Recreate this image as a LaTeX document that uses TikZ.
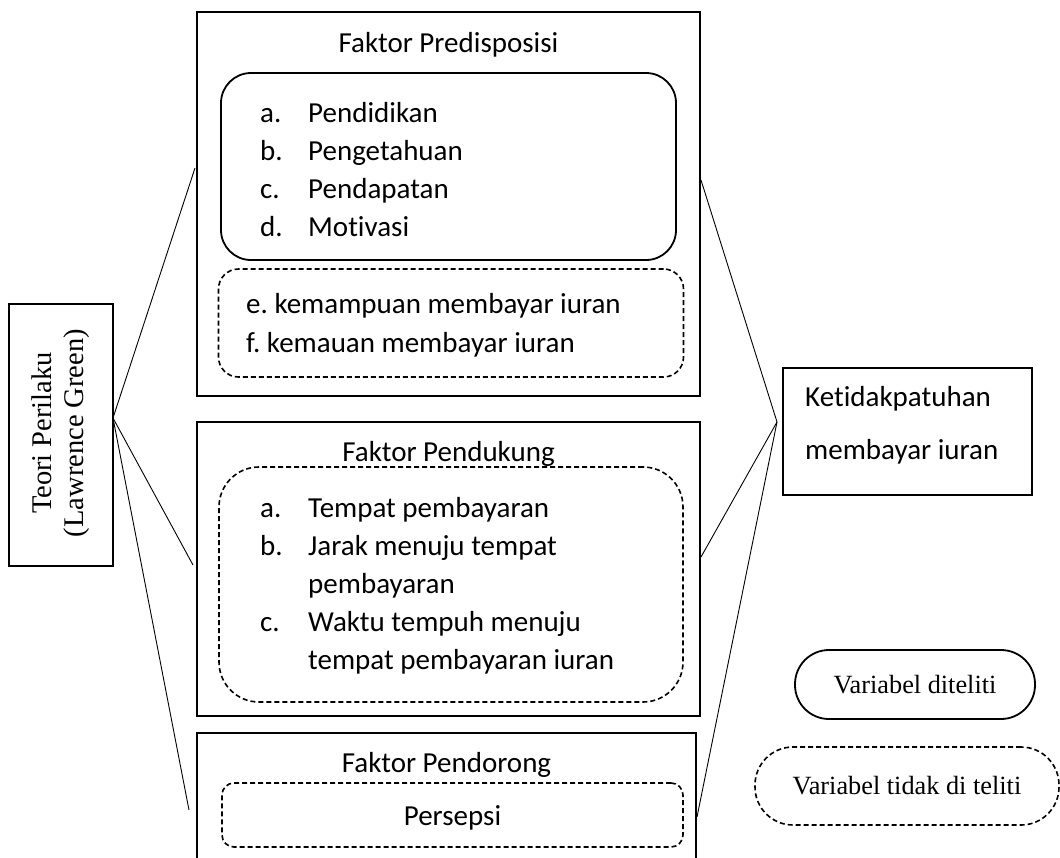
\documentclass[tikz,border=0pt]{standalone}
\usepackage{fontspec}
\setmainfont{Carlito}[Ligatures=NoCommon]
\newfontfamily\tnr{Liberation Serif}
\frenchspacing
\begin{document}
\begin{tikzpicture}[x=1pt,y=-1pt,
  frame/.style={draw, line width=2pt, inner sep=0pt},
  solidround/.style={draw, line width=1.8pt, inner sep=0pt},
  dashround/.style={draw, line width=1.6pt, dash pattern=on 5pt off 3pt, inner sep=0pt},
  conn/.style={line width=0.9pt},
  txt/.style={inner sep=0pt, anchor=base west, font=\fontsize{29}{35}\selectfont},
  ctxt/.style={inner sep=0pt, anchor=base, font=\fontsize{29}{35}\selectfont},
  serif/.style={font=\tnr\fontsize{26.3}{32}\selectfont}
]
\useasboundingbox (0,0) rectangle (1060,857);
\clip (0,0) rectangle (1060,857);

% left theory box
\node[frame, minimum width=104pt, minimum height=262pt] (teori) at (61,435) {};
\node[font=\tnr\fontsize{28.5}{32}\selectfont, rotate=90, align=center, inner sep=0pt] (teoritxt) at (61,433) {Teori Perilaku\\(Lawrence Green)};

% box 1
\node[frame, minimum width=503pt, minimum height=384pt] (b1) at (448.5,204) {};
\node[ctxt] (t1) at (448.5,52) {Faktor Predisposisi};
\node[solidround, rounded corners=30pt, minimum width=455pt, minimum height=187pt] (s1) at (448.5,166.5) {};
\node[txt] (a1l) at (260,122) {a.};  \node[txt] (a1) at (308,122) {Pendidikan};
\node[txt] (b1l) at (260,160) {b.};  \node[txt] (b1t) at (308,160) {Pengetahuan};
\node[txt] (c1l) at (260,198) {c.};  \node[txt] (c1) at (308,198) {Pendapatan};
\node[txt] (d1l) at (260,236) {d.};  \node[txt] (d1) at (308,236) {Motivasi};
\node[dashround, rounded corners=20pt, minimum width=465pt, minimum height=108pt] (dsh1) at (451,323) {};
\node[txt] (e1) at (246,313) {e. kemampuan membayar iuran};
\node[txt] (f1) at (246,352) {f. kemauan membayar iuran};

% box 2
\node[frame, minimum width=503pt, minimum height=294pt] (b2) at (448.5,569) {};
\node[dashround, rounded corners=40pt, minimum width=464pt, minimum height=235pt] (dsh2) at (451,584.5) {};
\node[ctxt] (t2) at (448.5,461) {Faktor Pendukung};
\node[txt] (a2l) at (260,517) {a.};  \node[txt] (a2) at (308,517) {Tempat pembayaran};
\node[txt] (b2l) at (260,555) {b.};  \node[txt] (b2t) at (308,555) {Jarak menuju tempat};
\node[txt] (b2c) at (308,593) {pembayaran};
\node[txt] (c2l) at (260,631) {c.};  \node[txt] (c2) at (308,631) {Waktu tempuh menuju};
\node[txt] (c2c) at (308,669) {tempat pembayaran iuran};

% box 3
\node[frame, minimum width=499pt, minimum height=160pt] (b3) at (446.5,813) {};
\node[ctxt] (t3) at (446.5,772) {Faktor Pendorong};
\node[dashround, rounded corners=12pt, minimum width=461pt, minimum height=64pt] (dsh3) at (452.5,815) {};
\node[ctxt] (p3) at (452.5,825) {Persepsi};

% outcome box
\node[frame, minimum width=249pt, minimum height=127pt] (k) at (907.5,431.5) {};
\node[txt] (k1) at (805,406) {Ketidakpatuhan};
\node[txt] (k2) at (805,459) {membayar iuran};

% legend
\node[solidround, rounded corners=34pt, minimum width=240pt, minimum height=69pt, serif] (lg1) at (915,684.5) {Variabel diteliti};
\node[dashround, rounded corners=38pt, minimum width=304pt, minimum height=78pt, serif] (lg2) at (907,786) {Variabel tidak di teliti};

% connectors
\coordinate (tp) at (113,418);
\coordinate (kp) at (777,422);
\coordinate (l1) at (195,168);
\coordinate (l2) at (193,565);
\coordinate (l3) at (189,810);
\coordinate (r1) at (701,180);
\coordinate (r2) at (701,557);
\coordinate (r3) at (697,817);
\draw[conn] (tp) -- (l1);
\draw[conn] (tp) -- (l2);
\draw[conn] (tp) -- (l3);
\draw[conn] (kp) -- (r1);
\draw[conn] (kp) -- (r2);
\draw[conn] (kp) -- (r3);
\end{tikzpicture}
\end{document}
